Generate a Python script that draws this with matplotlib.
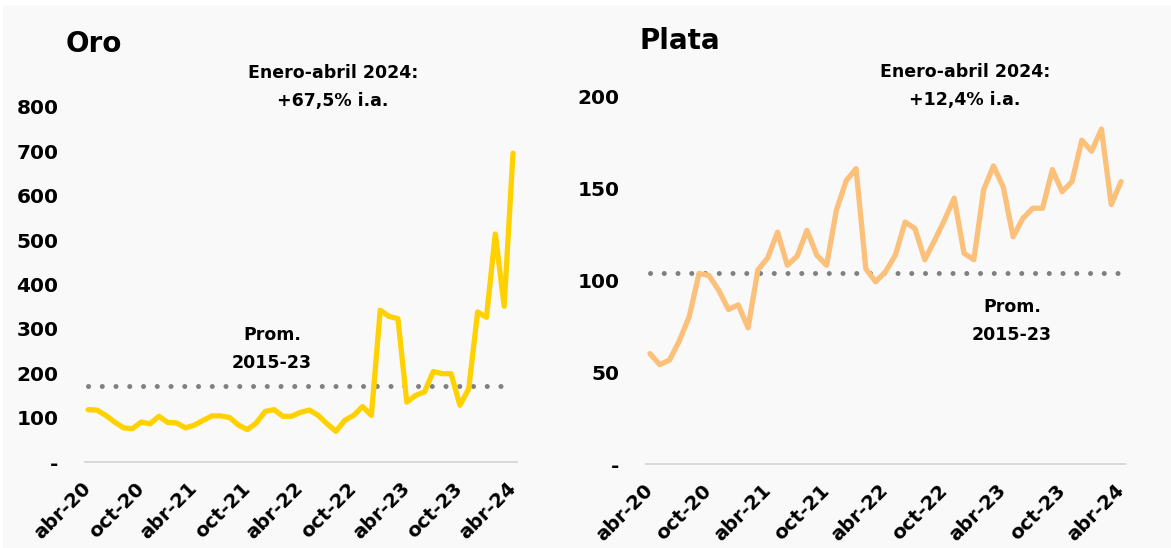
import matplotlib
matplotlib.use("Agg")
import matplotlib.pyplot as plt
from matplotlib.patches import Rectangle

# ---------------- data ----------------
months = list(range(49))  # abr-20 .. abr-24
tick_positions = [0, 6, 12, 18, 24, 30, 36, 42, 48]
tick_labels = ["abr-20", "oct-20", "abr-21", "oct-21", "abr-22",
               "oct-22", "abr-23", "oct-23", "abr-24"]

oro = [118, 117, 105, 90, 77, 75, 90, 86, 103, 89, 88, 77, 83,
       94, 104, 104, 100, 83, 73, 88, 114, 118, 103, 103, 112,
       117, 105, 86, 69, 94, 105, 125, 105, 342, 328, 323, 135,
       150, 158, 204, 199, 199, 128, 165, 338, 326, 514, 351, 696]
oro_avg = 171

plata = [60, 54, 56.5, 67, 80, 103.5, 102.5, 94.5, 84, 86.5, 74, 105.5, 112,
         126, 108, 113, 127, 113.5, 108, 138, 154, 160.5, 106, 99, 104.5,
         113.5, 131.5, 128, 111, 121.5, 132.5, 144.5, 114.5, 111, 149,
         162, 150.5, 123.5, 133.5, 139, 139, 160, 148, 153.5, 176,
         170, 182, 141, 153.5]
plata_avg = 104

oro_yticks = [0, 100, 200, 300, 400, 500, 600, 700, 800]
oro_ylabels = ["-", "100", "200", "300", "400", "500", "600", "700", "800"]
plata_yticks = [0, 50, 100, 150, 200]
plata_ylabels = ["-", "50", "100", "150", "200"]

# ---------------- style ----------------
W, H = 1171, 548
DPI = 100
BG = "#f9f9f9"
FONT = "DejaVu Sans"
plt.rcParams["font.family"] = [FONT]

fig = plt.figure(figsize=(W / DPI, H / DPI), dpi=DPI, facecolor="white")
fig.patches.append(Rectangle((3 / W, 0), 1, 1 - 5 / H, transform=fig.transFigure,
                             facecolor=BG, edgecolor="none", zorder=-10))


def px_axes(x0, x1, ytop, ybot):
    return fig.add_axes([x0 / W, 1 - ybot / H, (x1 - x0) / W, (ybot - ytop) / H])


def ftext(x, y, s, **kw):
    fig.text(x / W, 1 - y / H, s, **kw)


def setup(ax, yticks, ylabels, ylim, xlim):
    ax.set_facecolor("none")
    for s in ["top", "right", "left"]:
        ax.spines[s].set_visible(False)
    ax.spines["bottom"].set_color("#d9d9d9")
    ax.spines["bottom"].set_linewidth(1.4)
    ax.set_ylim(*ylim)
    ax.set_xlim(*xlim)
    ax.set_yticks(yticks)
    ax.set_yticklabels(ylabels, fontsize=14.5, fontweight="bold")
    ax.set_xticks(tick_positions)
    ax.set_xticklabels(tick_labels, fontsize=14, fontweight="bold",
                       rotation=45, ha="right", va="center",
                       rotation_mode="anchor")
    ax.tick_params(axis="y", length=0, pad=19)
    ax.tick_params(axis="x", length=0, pad=17)


# ---- Oro ----
ax1 = px_axes(85, 517, 107, 462)
setup(ax1, oro_yticks, oro_ylabels, (0, 800), (-0.35, 48.45))
ax1.plot(months, [oro_avg] * len(months), color="#808080", lw=3.6,
         linestyle=(0, (0.01, 2.74)), dash_capstyle="round", zorder=2)
ax1.plot(months, oro, color="#FFD100", lw=3.8, solid_joinstyle="round",
         solid_capstyle="round", zorder=3)

ftext(66, 44, "Oro", fontsize=20, fontweight="bold", ha="left", va="center")
ftext(333, 73, "Enero-abril 2024:", fontsize=12.5, fontweight="bold", ha="center", va="center")
ftext(333, 101, "+67,5% i.a.", fontsize=12.5, fontweight="bold", ha="center", va="center")
ftext(272, 335, "Prom.", fontsize=12.5, fontweight="bold", ha="center", va="center")
ftext(272, 363, "2015-23", fontsize=12.5, fontweight="bold", ha="center", va="center")

# ---- Plata ----
ax2 = px_axes(646, 1125, 96, 464)
setup(ax2, plata_yticks, plata_ylabels, (0, 200), (-0.4, 48.4))
ax2.plot(months, [plata_avg] * len(months), color="#808080", lw=3.6,
         linestyle=(0, (0.01, 2.74)), dash_capstyle="round", zorder=2)
ax2.plot(months, plata, color="#FBC07A", lw=3.8, solid_joinstyle="round",
         solid_capstyle="round", zorder=3)

ftext(639, 41, "Plata", fontsize=20, fontweight="bold", ha="left", va="center")
ftext(965, 72, "Enero-abril 2024:", fontsize=12.5, fontweight="bold", ha="center", va="center")
ftext(965, 100, "+12,4% i.a.", fontsize=12.5, fontweight="bold", ha="center", va="center")
ftext(1012, 307, "Prom.", fontsize=12.5, fontweight="bold", ha="center", va="center")
ftext(1012, 335, "2015-23", fontsize=12.5, fontweight="bold", ha="center", va="center")

fig.savefig("out.png", dpi=DPI, facecolor=fig.get_facecolor())
